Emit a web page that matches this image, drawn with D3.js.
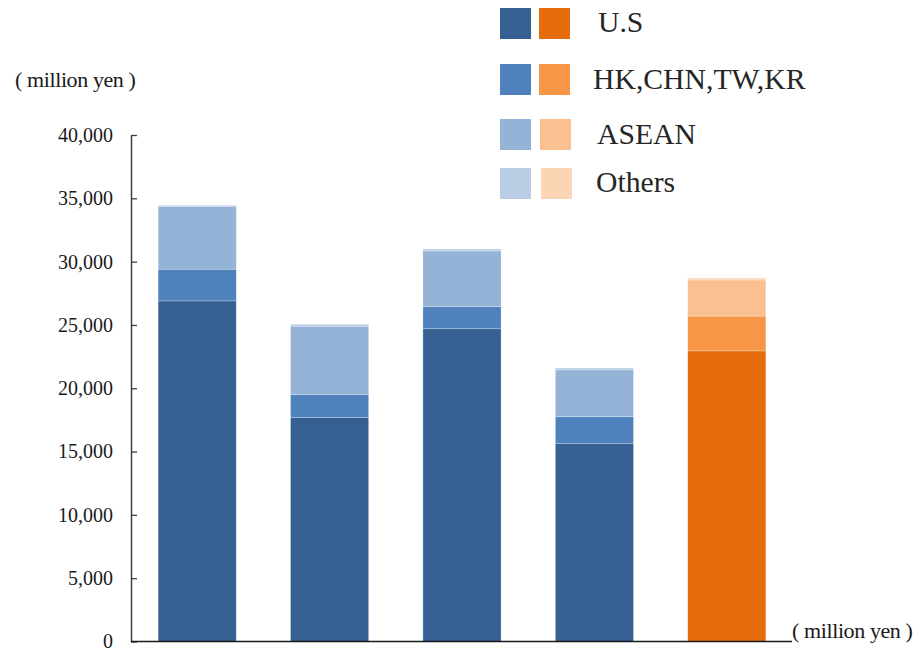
<!DOCTYPE html>
<html>
<head>
<meta charset="utf-8">
<script src="https://cdn.jsdelivr.net/npm/d3@7"></script>
<style>
  html, body { margin: 0; padding: 0; background: #ffffff; }
  svg { display: block; }
</style>
</head>
<body>
<svg id="chart" width="915" height="648"></svg>
<script>
// Bars (left to right); the last bar is the highlighted one
const periods = ["P1", "P2", "P3", "P4", "P5"];
const regions = ["U.S", "HK,CHN,TW,KR", "ASEAN", "Others"];

// Values per region, million yen
const usValues     = [26900, 17700, 24700, 15650, 22950];
const hkValues     = [2500, 1800, 1750, 2100, 2750];
const aseanValues  = [4950, 5400, 4400, 3700, 2850];
const othersValues = [100, 150, 150, 150, 150];

const yTicks = [0, 5000, 10000, 15000, 20000, 25000, 30000, 35000, 40000];

const bluePalette   = ["#366092", "#4f81bd", "#95b3d7", "#b8cce4"];
const orangePalette = ["#e46c0a", "#f79646", "#fac090", "#fcd5b4"];
const highlighted = "P5";

const serif = '"Liberation Serif", "Times New Roman", serif';

const rows = periods.map((p, i) => ({
  period: p,
  "U.S": usValues[i],
  "HK,CHN,TW,KR": hkValues[i],
  "ASEAN": aseanValues[i],
  "Others": othersValues[i]
}));

const svg = d3.select("#chart");
const plot = { left: 131, right: 793, top: 135, bottom: 641.5 };

const x = d3.scaleBand()
  .domain(periods)
  .range([plot.left, plot.right])
  .paddingInner(0.41)
  .paddingOuter(0.205);

const y = d3.scaleLinear()
  .domain([0, 40000])
  .range([plot.bottom, plot.top]);

const stacked = d3.stack().keys(regions)(rows);

// Stacked bars
svg.append("g")
  .selectAll("g")
  .data(stacked)
  .join("g")
  .each(function (layer, li) {
    d3.select(this).selectAll("rect")
      .data(layer)
      .join("rect")
      .attr("x", d => x(d.data.period))
      .attr("width", x.bandwidth())
      .attr("y", d => y(d[1]))
      .attr("height", d => y(d[0]) - y(d[1]))
      .attr("fill", d => (d.data.period === highlighted ? orangePalette : bluePalette)[li])
      .attr("stroke", "#ffffff")
      .attr("stroke-opacity", 0.35)
      .attr("stroke-width", 0.7);
  });

// Y axis with inward ticks
const yAxis = d3.axisLeft(y)
  .tickValues(yTicks)
  .tickFormat(d3.format(","))
  .tickSizeInner(-6)
  .tickSizeOuter(0)
  .tickPadding(18);

const yg = svg.append("g")
  .attr("transform", `translate(${plot.left},0)`)
  .call(yAxis);
yg.select(".domain").attr("stroke", "#404040").attr("stroke-width", 1.5);
yg.selectAll(".tick line").attr("stroke", "#404040").attr("stroke-width", 1.3);
yg.selectAll(".tick text")
  .style("font-family", serif)
  .style("font-size", "20px")
  .style("fill", "#1a1a1a");

// X baseline
svg.append("line")
  .attr("x1", plot.left)
  .attr("x2", plot.right - 1)
  .attr("y1", y(0))
  .attr("y2", y(0))
  .attr("stroke", "#1a1a1a")
  .attr("stroke-width", 1.6);

// Unit labels
[[15, 87], [792, 638]].forEach(([tx, ty]) => {
  svg.append("text")
    .attr("x", tx)
    .attr("y", ty)
    .style("font-family", serif)
    .style("font-size", "22px")
    .style("letter-spacing", "-0.4px")
    .style("fill", "#1a1a1a")
    .text("( million yen )");
});

// Legend: one blue and one orange swatch per region
const legendRows = [
  { y: 8,   tx: 598, ty: 32 },
  { y: 64,  tx: 593, ty: 89 },
  { y: 119, tx: 597, ty: 144 },
  { y: 168, tx: 596, ty: 192 }
];
const legend = svg.append("g");
regions.forEach((r, i) => {
  const row = legendRows[i];
  legend.append("rect")
    .attr("x", 500).attr("y", row.y)
    .attr("width", 31).attr("height", 31)
    .attr("fill", bluePalette[i]);
  legend.append("rect")
    .attr("x", 539 + (i >= 2 ? 1 + (i - 2) : 0)).attr("y", row.y)
    .attr("width", 31).attr("height", 31)
    .attr("fill", orangePalette[i]);
  legend.append("text")
    .attr("x", row.tx).attr("y", row.ty)
    .style("font-family", serif)
    .style("font-size", "29.7px")
    .style("fill", "#262626")
    .text(r);
});
</script>
</body>
</html>
